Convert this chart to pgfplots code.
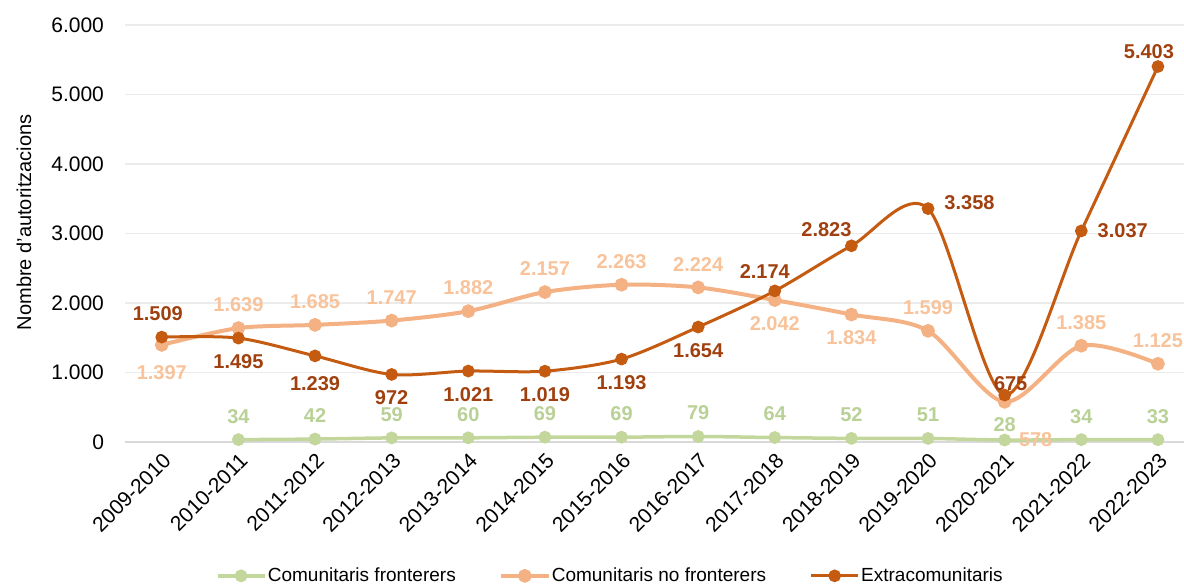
\documentclass[border=0pt]{standalone}
\usepackage{fontspec}
\setmainfont{Liberation Sans}
\usepackage{pgfplots}
\pgfplotsset{compat=1.18}

\definecolor{extra}{HTML}{C55A11}
\definecolor{extralbl}{HTML}{A0400F}
\definecolor{nofront}{HTML}{F4B183}
\definecolor{nofrontlbl}{HTML}{F8C39A}
\definecolor{front}{HTML}{C3D69B}
\definecolor{frontlbl}{HTML}{B9D196}
\definecolor{gridgray}{HTML}{EBEBEB}
\definecolor{axisgray}{HTML}{D9D9D9}

\begin{document}
\begin{tikzpicture}
\begin{axis}[
    name=ax,
    scale only axis,
    width=529.5pt,
    height=208.5pt,
    xmin=-0.48, xmax=13.34,
    ymin=0, ymax=6000,
    clip=false,
    xtick={0,...,13},
    xticklabels={2009-2010,2010-2011,2011-2012,2012-2013,2013-2014,2014-2015,2015-2016,2016-2017,2017-2018,2018-2019,2019-2020,2020-2021,2021-2022,2022-2023},
    ytick={0,1000,...,6000},
    major tick length=0pt,
    ymajorgrids,
    grid style={draw=gridgray, line width=0.75pt},
    axis x line*=bottom,
    x axis line style={draw=axisgray, line width=1pt, -},
    y axis line style={draw=none},
    /pgf/number format/.cd, 1000 sep={.}, assume math mode=true, fixed, precision=0,
    /pgfplots/.cd,
    tick label style={font=\fontsize{10.5}{12}\selectfont, text=black},
    xticklabel style={rotate=45, anchor=north east},
    yticklabel style={xshift=-7pt},
    ylabel={Nombre d'autoritzacions},
    ylabel style={font=\fontsize{10}{12}\selectfont, at={(axis description cs:-0.0954,0.527)}, anchor=center},
    legend columns=3,
    legend style={at={(0.458,-0.321)}, anchor=center, draw=none, fill=none,
        font=\fontsize{9.5}{11}\selectfont,
        nodes={inner sep=0.75pt},
        /tikz/every even column/.append style={column sep=21pt}},
    legend image code/.code={\draw[mark repeat=2,mark phase=2] plot coordinates {(0pt,0pt) (11.75pt,0pt) (23.5pt,0pt)};},
    % label-only plots: #1 text colour, #2 placement
    lbl/.style 2 args={draw=none, mark=none, forget plot, nodes near coords,
        every node near coord/.append style={font=\bfseries\fontsize{10}{12}\selectfont,
            inner sep=8pt, text=#1, #2}},
]
% lines
\addplot[front, line width=1.75pt, smooth, mark=*, mark size=2.3pt] coordinates {
    (1,34) (2,42) (3,59) (4,60) (5,69) (6,69) (7,79) (8,64) (9,52) (10,51) (11,28) (12,34) (13,33)};
\addplot[nofront, line width=2pt, smooth, mark=*, mark size=2.4pt] coordinates {
    (0,1397) (1,1639) (2,1685) (3,1747) (4,1882) (5,2157) (6,2263) (7,2224) (8,2042) (9,1834) (10,1599) (11,578) (12,1385) (13,1125)};
\addplot[extra, line width=1.5pt, smooth, mark=*, mark size=2.4pt] coordinates {
    (0,1509) (1,1495) (2,1239) (3,972) (4,1021) (5,1019) (6,1193) (7,1654) (8,2174) (9,2823) (10,3358) (11,675) (12,3037) (13,5403)};
\legend{Comunitaris fronterers, Comunitaris no fronterers, Extracomunitaris}

% data labels
\addplot[lbl={frontlbl}{anchor=south}] coordinates {
    (1,34) (2,42) (3,59) (4,60) (5,69) (6,69) (7,79) (8,64) (9,52) (10,51) (12,34) (13,33)};
\addplot[lbl={frontlbl}{anchor=south, yshift=-4pt}] coordinates {(11,28)};

\addplot[lbl={nofrontlbl}{anchor=south}] coordinates {
    (1,1639) (2,1685) (3,1747) (4,1882) (5,2157) (6,2263) (7,2224) (10,1599) (12,1385) (13,1125)};
\addplot[lbl={nofrontlbl}{anchor=north}] coordinates {(8,2042) (9,1834)};
\addplot[lbl={nofrontlbl}{anchor=north, yshift=-2pt}] coordinates {(0,1397)};
\addplot[lbl={nofrontlbl}{anchor=north, xshift=15.5pt, yshift=-7pt}] coordinates {(11,578)};

\addplot[lbl={extralbl}{anchor=north}] coordinates {
    (1,1495) (3,972) (4,1021) (5,1019) (6,1193) (7,1654)};
\addplot[lbl={extralbl}{anchor=north, yshift=-2pt}] coordinates {(2,1239)};
\addplot[lbl={extralbl}{anchor=south, xshift=-2pt}] coordinates {(0,1509)};
\addplot[lbl={extralbl}{anchor=south, xshift=-5pt, yshift=-2pt}] coordinates {(8,2174)};
\addplot[lbl={extralbl}{anchor=south, xshift=-12.5pt, yshift=-3.5pt}] coordinates {(9,2823)};
\addplot[lbl={extralbl}{anchor=west, yshift=3pt}] coordinates {(10,3358)};
\addplot[lbl={extralbl}{anchor=south, xshift=3pt, yshift=-6pt}] coordinates {(11,675)};
\addplot[lbl={extralbl}{anchor=west}] coordinates {(12,3037)};
\addplot[lbl={extralbl}{anchor=south, xshift=-4.5pt, yshift=-4.5pt}] coordinates {(13,5403)};
\end{axis}
\pgfresetboundingbox
\path[use as bounding box] ([xshift=-62.5pt,yshift=-72pt]ax.south west) rectangle ([yshift=12.5pt]ax.north east);
\end{tikzpicture}
\end{document}
